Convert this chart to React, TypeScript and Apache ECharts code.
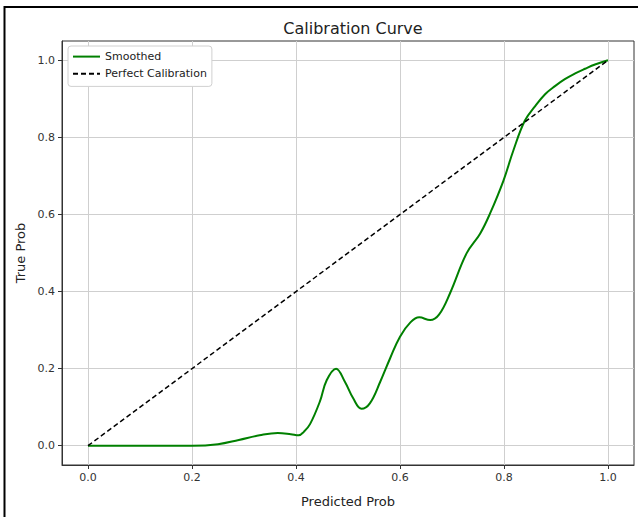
import React, { useEffect, useRef } from "react";
import * as echarts from "echarts";

const smoothX = [0.0, 0.05, 0.1, 0.15, 0.2, 0.25, 0.29, 0.33, 0.365, 0.39, 0.405, 0.415, 0.427, 0.446, 0.459, 0.477, 0.494, 0.51, 0.526, 0.542, 0.562, 0.581, 0.6, 0.62, 0.637, 0.658, 0.675, 0.696, 0.728, 0.754, 0.773, 0.799, 0.818, 0.84, 0.86, 0.879, 0.898, 0.917, 0.937, 0.956, 0.975, 1.0];
const smoothY = [0.0, 0.0, 0.0, 0.0, 0.0, 0.004, 0.015, 0.027, 0.033, 0.03, 0.027, 0.036, 0.056, 0.115, 0.17, 0.2, 0.166, 0.123, 0.096, 0.11, 0.166, 0.227, 0.283, 0.32, 0.333, 0.326, 0.34, 0.395, 0.499, 0.55, 0.602, 0.688, 0.766, 0.843, 0.881, 0.912, 0.933, 0.951, 0.966, 0.978, 0.989, 1.0];
const perfectX = [0, 1];
const perfectY = [0, 1];
const tickValues = [0, 0.2, 0.4, 0.6, 0.8, 1.0];

const FONT = "DejaVu Sans";

export default function App() {
  const ref = useRef<HTMLDivElement>(null);
  useEffect(() => {
    if (!ref.current) return;
    const chart = echarts.init(ref.current, undefined, { renderer: "svg" });
    const axisCommon = (name: string, isX: boolean) => ({
      type: "value",
      min: -0.05,
      max: 1.05,
      name,
      nameLocation: "middle",
      nameGap: isX ? 30 : 31,
      nameTextStyle: { fontFamily: FONT, fontSize: 13, color: "#222" },
      axisLine: { show: true, onZero: false, lineStyle: { color: "#333", width: 1 } },
      axisTick: { show: true, length: 4, customValues: tickValues, lineStyle: { color: "#333" } },
      axisLabel: {
        customValues: tickValues,
        formatter: (v: number) => v.toFixed(1),
        fontFamily: FONT,
        fontSize: 11,
        color: "#333",
        margin: 7,
      },
      splitLine: { show: true, lineStyle: { color: "#cfcfcf", width: 1 } },
    });
    chart.setOption({
      animation: false,
      backgroundColor: "#ffffff",
      title: {
        text: "Calibration Curve",
        left: 348,
        textAlign: "center",
        top: 15,
        textStyle: { fontFamily: FONT, fontSize: 16, fontWeight: "normal", color: "#222" },
      },
      grid: {
        left: 62,
        right: 4,
        top: 41,
        bottom: 52,
        containLabel: false,
        outerBoundsMode: "none",
        show: true,
        borderColor: "#333",
        borderWidth: 1,
        backgroundColor: "transparent",
      },
      legend: {
        left: 68,
        top: 46,
        orient: "vertical",
        itemWidth: 27,
        itemHeight: 14,
        itemGap: 6,
        padding: [5, 5, 7, 4],
        borderColor: "#d0d0d0",
        borderWidth: 1,
        borderRadius: 3,
        backgroundColor: "#fff",
        itemStyle: { opacity: 0 },
        textStyle: { fontFamily: FONT, fontSize: 11, color: "#222" },
        data: ["Smoothed", "Perfect Calibration"],
      },
      xAxis: axisCommon("Predicted Prob", true),
      yAxis: axisCommon("True Prob", false),
      graphic: [
        {
          type: "rect",
          shape: { x: 4.5, y: 7, width: 700, height: 600 },
          style: { fill: "none", stroke: "#000", lineWidth: 2 },
          silent: true,
        },
      ],
      series: [
        {
          name: "Smoothed",
          type: "line",
          smooth: 0.4,
          symbol: "none",
          data: smoothX.map((x, i) => [x, smoothY[i]]),
          lineStyle: { color: "#008000", width: 2 },
          itemStyle: { color: "#008000" },
          z: 3,
        },
        {
          name: "Perfect Calibration",
          type: "line",
          symbol: "none",
          data: perfectX.map((x, i) => [x, perfectY[i]]),
          lineStyle: { color: "#000", width: 1.5, type: [5, 3] },
          itemStyle: { color: "#000" },
          z: 4,
        },
      ],
    });
    return () => chart.dispose();
  }, []);
  return (
    <div
      ref={ref}
      style={{ position: "fixed", left: 0, top: 0, width: 638, height: 517 }}
    />
  );
}
